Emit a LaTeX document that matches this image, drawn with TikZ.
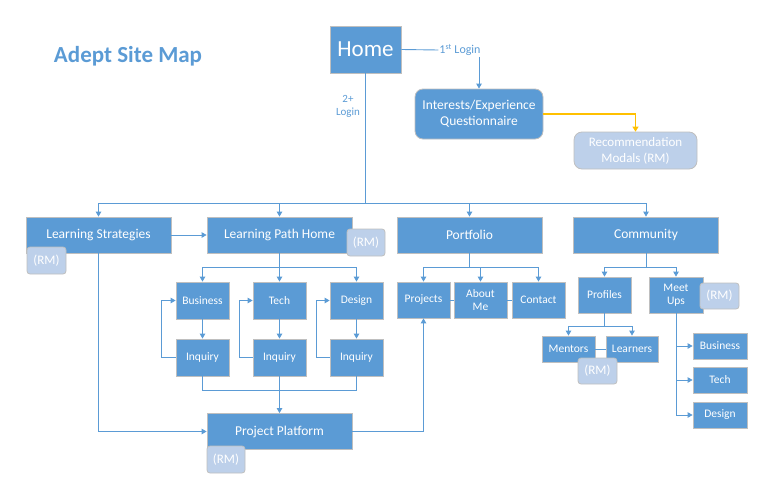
\documentclass[tikz,border=0pt]{standalone}
\usepackage{fontspec}
\setmainfont{Carlito}
\usetikzlibrary{arrows.meta}
\definecolor{boxblue}{HTML}{5B9BD5}
\definecolor{rmblue}{HTML}{BDD0EA}
\definecolor{edgegray}{HTML}{BFBFBF}
\definecolor{orangeline}{HTML}{FFC000}
\tikzset{
  box/.style={draw=edgegray, line width=0.8pt, fill=boxblue, text=white, inner sep=0pt, align=center},
  bigbox/.style={box, minimum width=145pt, minimum height=36pt, font=\fontsize{13.5}{15}\selectfont},
  smallbox/.style={box, minimum width=53pt, minimum height=37pt, font=\fontsize{11.5}{13}\selectfont},
  tinybox/.style={box, minimum width=54pt, minimum height=26pt, font=\fontsize{11.5}{13}\selectfont},
  rmbox/.style={draw=edgegray, line width=0.8pt, fill=rmblue, text=white, inner sep=0pt, rounded corners=3pt,
    minimum width=39pt, minimum height=27pt, font=\fontsize{13}{15}\selectfont},
  conn/.style={draw=boxblue, line width=0.9pt},
  arr/.style={conn, -{Triangle[length=5pt,width=5.5pt]}},
  oarr/.style={draw=orangeline, line width=1.2pt, -{Triangle[length=5pt,width=6pt]}},
  lbl/.style={text=boxblue, inner sep=1pt, align=center},
}
\begin{document}
\begin{tikzpicture}[x=1pt,y=-1pt]
\useasboundingbox (0,0) rectangle (765,479);

% title
\node[text=boxblue, font=\fontsize{23}{26}\selectfont\bfseries] (title) at (128,56) {Adept Site Map};

% top
\node[box, minimum width=71pt, minimum height=47pt, font=\fontsize{23}{26}\selectfont] (home) at (365.5,49.5) {Home};
\node[lbl, font=\fontsize{12}{14}\selectfont] (login1) at (460,50) {1\textsuperscript{st} Login};
\node[box, rounded corners=8pt, minimum width=128pt, minimum height=50pt, font=\fontsize{13.5}{16}\selectfont] (quest) at (479,114) {Interests/Experience\\Questionnaire};
\node[box, fill=rmblue, rounded corners=8pt, minimum width=123pt, minimum height=37pt, font=\fontsize{13}{16}\selectfont] (recmod) at (635.5,150.5) {Recommendation\\Modals (RM)};
\node[lbl, font=\fontsize{11}{13}\selectfont] (login2) at (348,106) {2+\\Login};

% level 1
\node[bigbox] (ls) at (98.5,235) {Learning Strategies};
\node[bigbox] (lph) at (279.5,235) {Learning Path Home};
\node[bigbox] (port) at (469.5,235) {Portfolio};
\node[bigbox] (comm) at (646,235) {Community};

% learning path children
\node[smallbox] (bus) at (202.5,300.5) {Business};
\node[smallbox] (tech) at (279.5,300.5) {Tech};
\node[smallbox] (des) at (356.5,300.5) {Design};
\node[smallbox] (inq1) at (202.5,357.5) {Inquiry};
\node[smallbox] (inq2) at (279.5,357.5) {Inquiry};
\node[smallbox] (inq3) at (356.5,357.5) {Inquiry};
\node[bigbox] (pp) at (279.5,431.5) {Project Platform};

% portfolio children
\node[smallbox, minimum height=36pt] (proj) at (423.5,300) {Projects};
\node[smallbox, minimum height=36pt] (about) at (480.5,300) {About\\Me};
\node[smallbox, minimum height=36pt] (contact) at (538.5,300) {Contact};

% community children
\node[smallbox, minimum height=36pt] (prof) at (604.5,295) {Profiles};
\node[smallbox, minimum height=36pt, minimum width=54pt] (meet) at (676,295) {Meet\\Ups};
\node[tinybox, minimum width=53pt] (ment) at (568.5,349) {Mentors};
\node[tinybox, minimum width=52pt] (learn) at (632,349) {Learners};
\node[tinybox] (mbus) at (720,346) {Business};
\node[tinybox] (mtech) at (720,380) {Tech};
\node[tinybox] (mdes) at (720,415) {Design};

% junction coordinates
\coordinate (j1) at (365.5,203);
\coordinate (j2) at (279.5,267);
\coordinate (j3) at (279.5,390);
\coordinate (j4) at (469.5,267);
\coordinate (j5) at (646,267);
\coordinate (j6) at (604.5,326);

% connectors top
\draw[conn] (home.east) -- (login1.west);
\draw[arr] (login1.south -| quest.north) -- (quest.north);
\draw[oarr] (quest.east) -| (recmod.north);
\draw[conn] (home.south) -- (j1);
\draw[arr] (j1) -| (ls.north);
\draw[arr] (j1) -| (lph.north);
\draw[arr] (j1) -| (port.north);
\draw[arr] (j1) -| (comm.north);
\draw[arr] (ls.east) -- (lph.west);

% learning path
\draw[conn] (lph.south) -- (j2);
\draw[arr] (j2) -| (bus.north);
\draw[arr] (j2) -- (tech.north);
\draw[arr] (j2) -| (des.north);
\draw[arr] (bus) -- (inq1);
\draw[arr] (tech) -- (inq2);
\draw[arr] (des) -- (inq3);
\draw[arr] (inq1.west) -- ++(-14,0) |- (bus.west);
\draw[arr] (inq2.west) -- ++(-13,0) |- (tech.west);
\draw[arr] (inq3.west) -- ++(-13,0) |- (des.west);
\draw[conn] (inq1.south) -- (inq1.south |- j3) -- (inq3.south |- j3) -- (inq3.south);
\draw[arr] (inq2.south) -- (pp.north);
\draw[arr] (ls.south) |- (pp.west);
\draw[arr] (pp.east) -| (proj.south);

% portfolio
\draw[conn] (port.south) -- (j4);
\draw[arr] (j4) -| (proj.north);
\draw[arr] (j4) -| (about.north);
\draw[arr] (j4) -| (contact.north);
\draw[conn] (proj.east) -- (about.west);
\draw[conn] (about.east) -- (contact.west);

% community
\draw[conn] (comm.south) -- (j5);
\draw[arr] (j5) -| (prof.north);
\draw[arr] (j5) -| (meet.north);
\draw[conn] (prof.south) -- (j6);
\draw[arr] (j6) -| (ment.north);
\draw[arr] (j6) -| (learn.north);
\draw[conn] (ment.east) -- (learn.west);
\draw[arr] (meet.south) |- (mbus.west);
\draw[arr] (meet.south) |- (mtech.west);
\draw[arr] (meet.south) |- (mdes.west);

% RM badges
\node[rmbox] (rm1) at (46.5,260.5) {(RM)};
\node[rmbox, minimum width=38pt] (rm2) at (366,242.5) {(RM)};
\node[rmbox, minimum width=38pt] (rm3) at (226,459.5) {(RM)};
\node[rmbox, minimum height=26pt] (rm4) at (719.5,296) {(RM)};
\node[rmbox, minimum height=26pt] (rm5) at (597.5,371) {(RM)};
\end{tikzpicture}
\end{document}
